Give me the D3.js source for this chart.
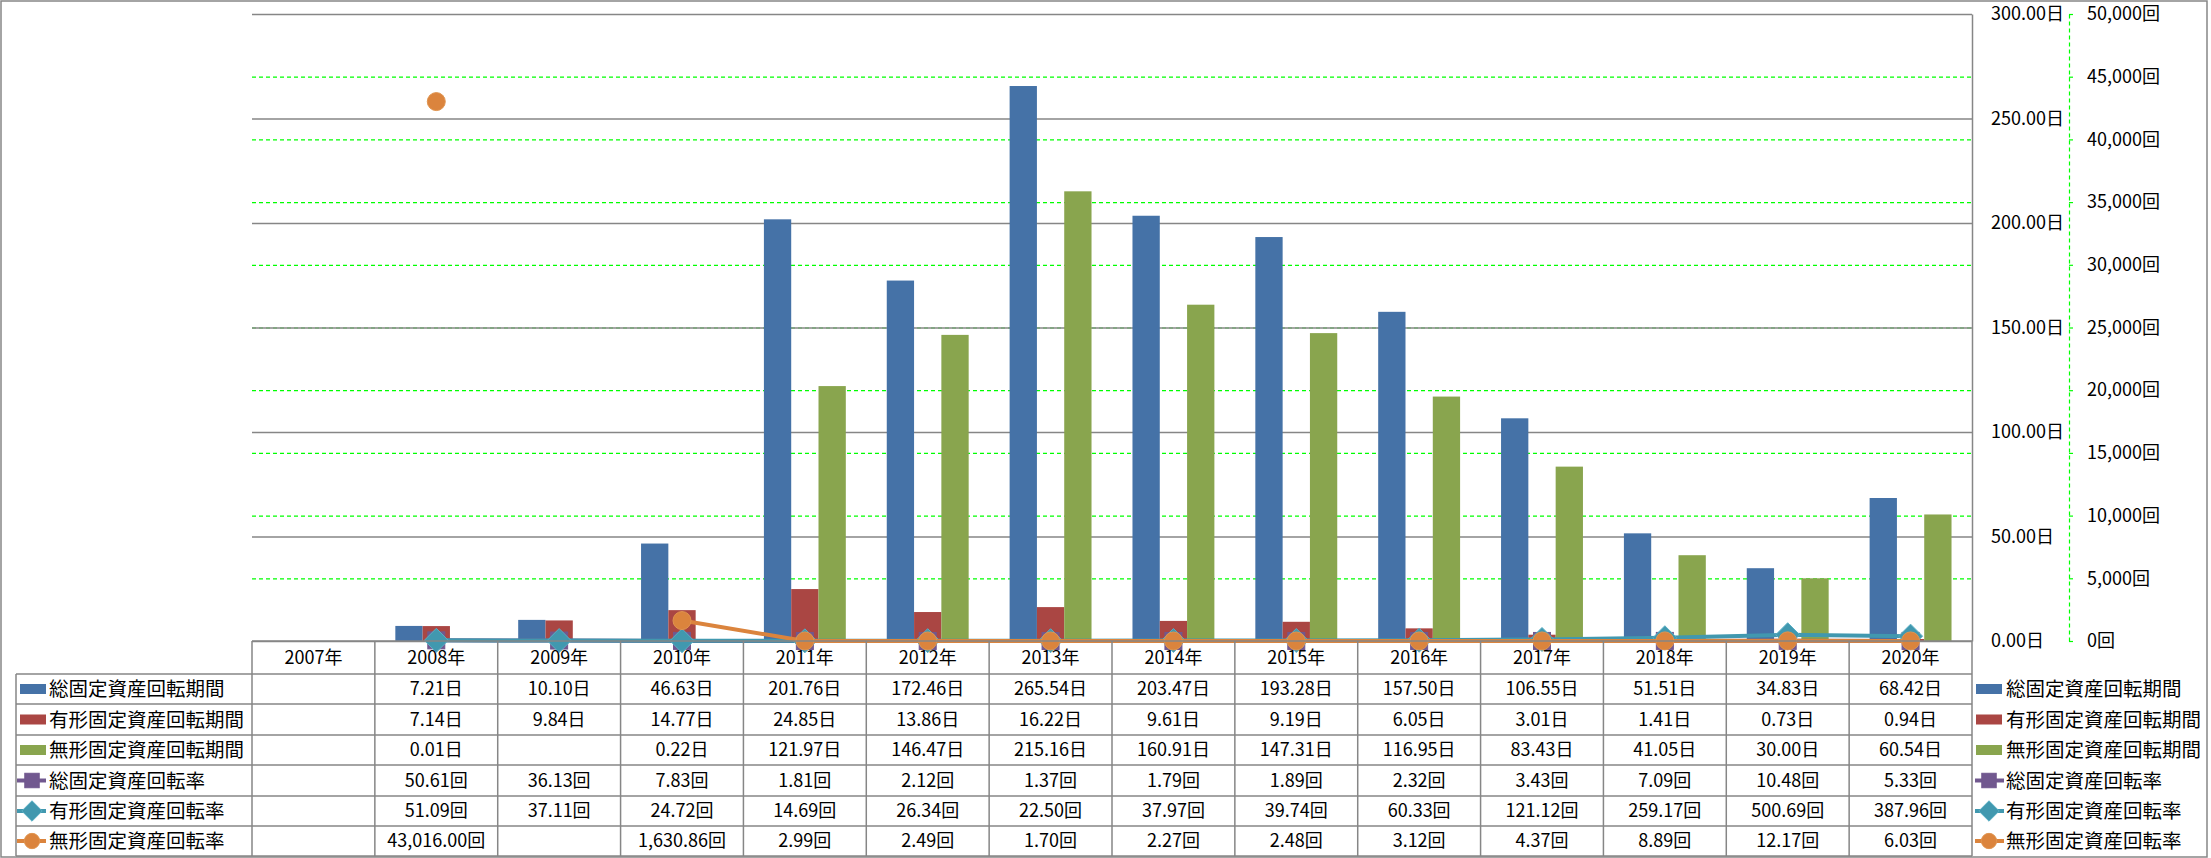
<!DOCTYPE html>
<html><head><meta charset="utf-8">
<script src="https://cdn.jsdelivr.net/npm/d3@7"></script>
<style>
html,body{margin:0;padding:0;background:#fff;}
svg{display:block;font-family:"Noto Sans CJK JP","Noto Sans",sans-serif;}
</style></head>
<body><svg id="c" width="2211" height="858"></svg>
<script>
const years = ["2007年","2008年","2009年","2010年","2011年","2012年","2013年","2014年","2015年","2016年","2017年","2018年","2019年","2020年"];
const barSeriesNames = ["総固定資産回転期間","有形固定資産回転期間","無形固定資産回転期間"];
const lineSeriesNames = ["総固定資産回転率","有形固定資産回転率","無形固定資産回転率"];
const totalPeriod = [null,7.21,10.10,46.63,201.76,172.46,265.54,203.47,193.28,157.50,106.55,51.51,34.83,68.42];
const tangiblePeriod = [null,7.14,9.84,14.77,24.85,13.86,16.22,9.61,9.19,6.05,3.01,1.41,0.73,0.94];
const intangiblePeriod = [null,0.01,null,0.22,121.97,146.47,215.16,160.91,147.31,116.95,83.43,41.05,30.00,60.54];
const totalTurnover = [null,50.61,36.13,7.83,1.81,2.12,1.37,1.79,1.89,2.32,3.43,7.09,10.48,5.33];
const tangibleTurnover = [null,51.09,37.11,24.72,14.69,26.34,22.50,37.97,39.74,60.33,121.12,259.17,500.69,387.96];
const intangibleTurnover = [null,43016.00,null,1630.86,2.99,2.49,1.70,2.27,2.48,3.12,4.37,8.89,12.17,6.03];
const primaryTicks = [0,50,100,150,200,250,300];
const secondaryTicks = [0,5000,10000,15000,20000,25000,30000,35000,40000,45000,50000];

const barColors = ["#4572A7","#AA4643","#89A54E"];
const lineColors = ["#71588F","#4198AF","#DB843D"];
const markerTypes = ["square","diamond","circle"];
const barData = [totalPeriod, tangiblePeriod, intangiblePeriod];
const lineData = [totalTurnover, tangibleTurnover, intangibleTurnover];

const svg = d3.select("#c");
const L = 252, R = 1972, T = 14, B = 641;
const GRAY = "#868686";
const GREEN = "#00FF00";

const x = d3.scaleBand().domain(years).range([L, R]).padding(0);
const bw = x.bandwidth();
const x1 = d3.scaleBand().domain(barSeriesNames).range([bw/6, bw*5/6]).padding(0);
const y = d3.scaleLinear().domain([0,300]).range([B, T]);
const y2 = d3.scaleLinear().domain([0,50000]).range([B, T]);

// outer border
svg.append("rect").attr("x",1).attr("y",1).attr("width",2206).attr("height",856)
  .attr("fill","none").attr("stroke",GRAY).attr("stroke-width",1.5);

// secondary gridlines (green dashed)
const g2grid = svg.append("g").attr("transform",`translate(${L},0)`)
  .call(d3.axisLeft(y2).tickValues(secondaryTicks.filter(v=>v>0)).tickSize(-(R-L)).tickFormat(""));
g2grid.select(".domain").remove();
g2grid.selectAll("line").attr("stroke",GREEN).attr("stroke-width",1.2).attr("stroke-dasharray","4,3");

// primary gridlines (gray)
const g1grid = svg.append("g").attr("transform",`translate(${L},0)`)
  .call(d3.axisLeft(y).tickValues(primaryTicks).tickSize(-(R-L)).tickFormat(""));
g1grid.select(".domain").remove();
g1grid.selectAll("line").attr("stroke",GRAY).attr("stroke-width",1.5);

// bars
barSeriesNames.forEach((name, si) => {
  svg.append("g").selectAll("rect")
    .data(years.map((yr,i)=>({yr, v: barData[si][i]})).filter(d=>d.v!==null))
    .join("rect")
    .attr("x", d => x(d.yr) + x1(name))
    .attr("width", x1.bandwidth())
    .attr("y", d => y(d.v))
    .attr("height", d => y(0) - y(d.v))
    .attr("fill", barColors[si]);
});

// primary axis (right side)
const ax1 = svg.append("g").attr("transform",`translate(${R},0)`)
  .call(d3.axisRight(y).tickValues(primaryTicks).tickSize(0).tickPadding(19)
    .tickFormat(d => d3.format(".2f")(d) + "日"));
ax1.select(".domain").attr("stroke",GRAY).attr("stroke-width",1.5);
ax1.selectAll("text").attr("font-size",18).attr("fill","#000")
  .attr("font-family",'"Noto Sans CJK JP",sans-serif');

// secondary axis
const ax2 = svg.append("g").attr("transform",`translate(2069,0)`)
  .call(d3.axisRight(y2).tickValues(secondaryTicks).tickSizeInner(4).tickSizeOuter(0).tickPadding(14)
    .tickFormat(d => d3.format(",")(d) + "回"));
ax2.select(".domain").attr("stroke",GREEN).attr("stroke-width",1.2).attr("stroke-dasharray","4,3");
ax2.selectAll("line").attr("stroke",GREEN).attr("stroke-width",1.2);
ax2.selectAll("text").attr("font-size",18).attr("fill","#000")
  .attr("font-family",'"Noto Sans CJK JP",sans-serif');

// marker drawing helper
function drawMarker(g, type, cx, cy, color, scale=1) {
  if (type === "square") {
    const s = 17*scale;
    g.append("rect").attr("x",cx-s/2).attr("y",cy-s/2).attr("width",s).attr("height",s)
      .attr("fill",color).attr("stroke",color).attr("stroke-width",1);
  } else if (type === "diamond") {
    const h = 12*scale;
    g.append("path").attr("d",`M${cx},${cy-h}L${cx+h},${cy}L${cx},${cy+h}L${cx-h},${cy}Z`)
      .attr("fill",color).attr("stroke","#5AAFC4").attr("stroke-width",1);
  } else {
    g.append("circle").attr("cx",cx).attr("cy",cy).attr("r",9*scale)
      .attr("fill",color).attr("stroke","#E0944F").attr("stroke-width",1);
  }
}

// lines + markers
lineSeriesNames.forEach((name, si) => {
  const pts = years.map((yr,i)=>({yr, v: lineData[si][i]}));
  const line = d3.line().defined(d=>d.v!==null)
    .x(d => x(d.yr) + bw/2).y(d => y2(d.v));
  const g = svg.append("g");
  g.append("path").attr("d", line(pts)).attr("fill","none")
    .attr("stroke", lineColors[si]).attr("stroke-width", 4).attr("stroke-linejoin","round");
  pts.filter(d=>d.v!==null).forEach(d => drawMarker(g, markerTypes[si], x(d.yr)+bw/2, y2(d.v), lineColors[si]));
});

// data table
const rowEdges = [674,704,735,765,796,826,856];
const tbl = svg.append("g");
const TL = 16;
tbl.append("line").attr("x1",L).attr("x2",R).attr("y1",B).attr("y2",B).attr("stroke",GRAY).attr("stroke-width",1.5);
rowEdges.forEach(ry => tbl.append("line").attr("x1",TL).attr("x2",R).attr("y1",ry).attr("y2",ry)
  .attr("stroke",GRAY).attr("stroke-width",1.5));
tbl.append("line").attr("x1",TL).attr("x2",TL).attr("y1",674).attr("y2",856).attr("stroke",GRAY).attr("stroke-width",1.5);
years.forEach(yr => tbl.append("line").attr("x1",x(yr)).attr("x2",x(yr)).attr("y1",B).attr("y2",856)
  .attr("stroke",GRAY).attr("stroke-width",1.5));
tbl.append("line").attr("x1",R).attr("x2",R).attr("y1",B).attr("y2",856).attr("stroke",GRAY).attr("stroke-width",1.5);

// header labels
tbl.selectAll("text.hdr").data(years).join("text").attr("class","hdr")
  .attr("x", d => x(d)+bw/2).attr("y", (B+674)/2).attr("dy","0.35em")
  .attr("text-anchor","middle").attr("font-size",18).attr("fill","#000").text(d=>d);

const allNames = barSeriesNames.concat(lineSeriesNames);
const allData = barData.concat(lineData);
const units = ["日","日","日","回","回","回"];
allNames.forEach((name, ri) => {
  const cy = (rowEdges[ri] + rowEdges[ri+1]) / 2;
  const kg = tbl.append("g");
  if (ri < 3) {
    kg.append("rect").attr("x",20).attr("y",cy-5).attr("width",26).attr("height",10).attr("fill",barColors[ri]);
  } else {
    const li = ri-3;
    kg.append("line").attr("x1",17).attr("x2",46).attr("y1",cy).attr("y2",cy).attr("stroke",lineColors[li]).attr("stroke-width",4);
    drawMarker(kg, markerTypes[li], 32, cy, lineColors[li], 0.85);
  }
  tbl.append("text").attr("x",49).attr("y",cy).attr("dy","0.36em").attr("font-size",19.5)
    .attr("fill","#000").text(name);
  years.forEach((yr, i) => {
    const v = allData[ri][i];
    if (v === null) return;
    tbl.append("text").attr("x", x(yr)+bw/2).attr("y", cy).attr("dy","0.35em")
      .attr("text-anchor","middle").attr("font-size",18).attr("fill","#000")
      .text(d3.format(",.2f")(v) + units[ri]);
  });
  const lg = svg.append("g");
  if (ri < 3) {
    lg.append("rect").attr("x",1976).attr("y",cy-5).attr("width",26).attr("height",10).attr("fill",barColors[ri]);
  } else {
    const li = ri-3;
    lg.append("line").attr("x1",1975).attr("x2",2004).attr("y1",cy).attr("y2",cy).attr("stroke",lineColors[li]).attr("stroke-width",4);
    drawMarker(lg, markerTypes[li], 1989, cy, lineColors[li], 0.85);
  }
  lg.append("text").attr("x",2006).attr("y",cy).attr("dy","0.36em").attr("font-size",19.5)
    .attr("fill","#000").text(name);
});
</script></body></html>
